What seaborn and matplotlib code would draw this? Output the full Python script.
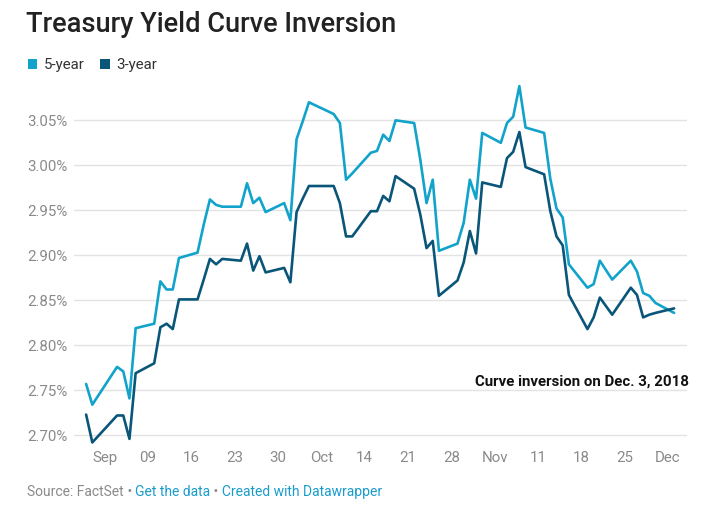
import matplotlib
matplotlib.use("Agg")
import matplotlib.pyplot as plt
from matplotlib.patches import Patch
import seaborn as sns
import pandas as pd

# ---------------- data ----------------
dates = [
    "2018-08-30", "2018-08-31",
    "2018-09-04", "2018-09-05", "2018-09-06", "2018-09-07",
    "2018-09-10", "2018-09-11", "2018-09-12", "2018-09-13", "2018-09-14",
    "2018-09-17", "2018-09-18", "2018-09-19", "2018-09-20", "2018-09-21",
    "2018-09-24", "2018-09-25", "2018-09-26", "2018-09-27", "2018-09-28",
    "2018-10-01", "2018-10-02", "2018-10-03", "2018-10-04", "2018-10-05",
    "2018-10-09", "2018-10-10", "2018-10-11", "2018-10-12",
    "2018-10-15", "2018-10-16", "2018-10-17", "2018-10-18", "2018-10-19",
    "2018-10-22", "2018-10-23", "2018-10-24", "2018-10-25", "2018-10-26",
    "2018-10-29", "2018-10-30", "2018-10-31", "2018-11-01", "2018-11-02",
    "2018-11-05", "2018-11-06", "2018-11-07", "2018-11-08", "2018-11-09",
    "2018-11-12", "2018-11-13", "2018-11-14", "2018-11-15", "2018-11-16",
    "2018-11-19", "2018-11-20", "2018-11-21", "2018-11-23",
    "2018-11-26", "2018-11-27", "2018-11-28", "2018-11-29", "2018-11-30",
    "2018-12-03",
]

five_year = [
    2.757, 2.734,
    2.776, 2.771, 2.741, 2.819,
    2.824, 2.871, 2.862, 2.862, 2.897,
    2.903, 2.934, 2.962, 2.956, 2.954,
    2.954, 2.980, 2.958, 2.964, 2.948,
    2.958, 2.939, 3.029, 3.049, 3.070,
    3.057, 3.047, 2.984, 2.991,
    3.014, 3.016, 3.034, 3.027, 3.050,
    3.047, 3.006, 2.958, 2.984, 2.905,
    2.913, 2.936, 2.984, 2.963, 3.036,
    3.025, 3.047, 3.054, 3.088, 3.042,
    3.036, 2.985, 2.952, 2.942, 2.890,
    2.864, 2.868, 2.894, 2.873,
    2.894, 2.882, 2.858, 2.855, 2.847,
    2.836,
]

three_year = [
    2.723, 2.692,
    2.722, 2.722, 2.696, 2.769,
    2.780, 2.820, 2.824, 2.818, 2.851,
    2.851, 2.873, 2.896, 2.890, 2.896,
    2.894, 2.913, 2.883, 2.899, 2.881,
    2.886, 2.870, 2.948, 2.963, 2.977,
    2.977, 2.958, 2.921, 2.921,
    2.949, 2.949, 2.966, 2.960, 2.988,
    2.974, 2.945, 2.908, 2.916, 2.855,
    2.872, 2.892, 2.927, 2.902, 2.981,
    2.976, 3.008, 3.015, 3.037, 2.998,
    2.990, 2.949, 2.921, 2.911, 2.856,
    2.818, 2.831, 2.853, 2.834,
    2.864, 2.856, 2.831, 2.834, 2.836,
    2.841,
]

series_names = ["5-year", "3-year"]
series_colors = ["#12a3cb", "#0a5679"]

tick_dates = ["2018-09-02", "2018-09-09", "2018-09-16", "2018-09-23", "2018-09-30",
              "2018-10-07", "2018-10-14", "2018-10-21", "2018-10-28",
              "2018-11-04", "2018-11-11", "2018-11-18", "2018-11-25", "2018-12-02"]
tick_labels = ["Sep", "09", "16", "23", "30", "Oct", "14", "21", "28",
               "Nov", "11", "18", "25", "Dec"]

y_ticks = [2.70, 2.75, 2.80, 2.85, 2.90, 2.95, 3.00, 3.05]

title = "Treasury Yield Curve Inversion"
annotation = "Curve inversion on Dec. 3, 2018"
source_parts = [("Source: FactSet", "#8a8a8a"), (" \u2022 ", "#8a8a8a"),
                ("Get the data", "#1a9ccb"), (" \u2022 ", "#8a8a8a"),
                ("Created with Datawrapper", "#1a9ccb")]

# ---------------- frame ----------------
df = pd.DataFrame({
    "date": pd.to_datetime(dates * 2),
    "value": five_year + three_year,
    "series": [series_names[0]] * len(dates) + [series_names[1]] * len(dates),
})

sns.set_theme(style="white")
plt.rcParams["font.family"] = ["Roboto", "DejaVu Sans"]

W, H = 727, 520
fig = plt.figure(figsize=(W / 100, H / 100), dpi=100)
fig.patch.set_facecolor("white")

ax_left, ax_right, ax_top, ax_bottom = 74, 687, 80, 445
ax = fig.add_axes([ax_left / W, 1 - ax_bottom / H,
                   (ax_right - ax_left) / W, (ax_bottom - ax_top) / H])

sns.lineplot(data=df, x="date", y="value", hue="series",
             palette=dict(zip(series_names, series_colors)),
             hue_order=series_names, linewidth=1.9, legend=False, ax=ax)

ax.set_xlim(pd.Timestamp("2018-08-28 01:00"), pd.Timestamp("2018-12-05 02:00"))
ax.set_ylim(2.6892, 3.0948)

ax.set_yticks(y_ticks)
ax.set_yticklabels([f"{v:.2f}%" for v in y_ticks])
ax.set_xticks(pd.to_datetime(tick_dates))
ax.set_xticklabels(tick_labels)

ax.grid(axis="y", color="#e3e3e3", linewidth=1.0)
ax.grid(axis="x", visible=False)
ax.set_axisbelow(True)
for s in ax.spines.values():
    s.set_visible(False)
ax.tick_params(axis="both", length=0, labelsize=10.8, colors="#8a8a8a")
ax.tick_params(axis="y", pad=4.5)
ax.tick_params(axis="x", pad=4.5)
ax.set_xlabel("")
ax.set_ylabel("")

# annotation
ax.text(pd.Timestamp("2018-12-05 08:00"), 2.760, annotation, ha="right", va="center",
        fontsize=10.8, fontweight="bold", color="#111111", clip_on=False)

# title
fig.text(26 / W, 1 - 25 / H, title, ha="left", va="center",
         fontsize=19.6, fontweight="medium", color="#222222")

# legend
handles = [Patch(facecolor=c, edgecolor="none", label=n)
           for n, c in zip(series_names, series_colors)]
fig.legend(handles=handles, loc="upper left", bbox_to_anchor=(17 / W, 1 - 48 / H),
           ncol=2, frameon=False, fontsize=10.8, handlelength=0.65, handleheight=0.65,
           handletextpad=0.45, columnspacing=1.0, borderpad=0.2,
           labelcolor="#333333")

# footer
fig.canvas.draw()
renderer = fig.canvas.get_renderer()
x_px = 27
for txt, col in source_parts:
    t = fig.text(x_px / W, 1 - 492 / H, txt, ha="left", va="center",
                 fontsize=10, color=col)
    bb = t.get_window_extent(renderer=renderer)
    x_px += bb.width

fig.savefig("out.png", dpi=100, facecolor="white")
